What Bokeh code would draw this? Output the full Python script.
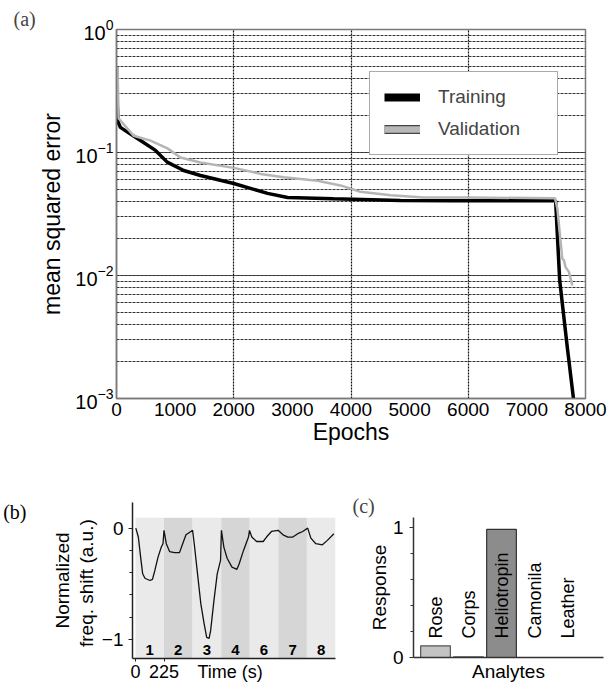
import math
from bokeh.plotting import figure
from bokeh.layouts import column, row
from bokeh.models import (Range1d, FixedTicker, LogTicker, Legend, LegendItem, Title,
                          LinearAxis, CustomJSTickFormatter)
from bokeh.core.properties import value
from bokeh.embed import file_html
from bokeh.resources import INLINE

SANS = "Liberation Sans"
SERIF = "Liberation Serif"
NAN = float("nan")

# ---------------- data: panel (a) ----------------
train_epochs = [0, 10, 30, 68, 200, 410, 665, 865, 1146, 1433, 2000, 2577, 2918, 3700, 4846, 5700, 7490, 7560, 7690, 7800]
train_mse = [0.50, 0.26, 0.175, 0.16, 0.145, 0.125, 0.104, 0.0835, 0.0714, 0.065, 0.056, 0.0465, 0.043, 0.042, 0.0407, 0.0405, 0.0405, 0.0091, 0.0026, 0.00095]
val_epochs = [0, 20, 35, 290, 580, 870, 1090, 1430, 2000, 2460, 2850, 3430, 3820, 4160, 4680, 5240, 6000, 7480, 7520, 7604, 7632, 7660, 7717, 7775]
val_mse = [0.50, 0.45, 0.19, 0.137, 0.125, 0.108, 0.091, 0.083, 0.075, 0.067, 0.063, 0.059, 0.054, 0.048, 0.045, 0.043, 0.043, 0.0425, 0.035, 0.0137, 0.0133, 0.0117, 0.0107, 0.0083]
epoch_ticks = [0, 1000, 2000, 3000, 4000, 5000, 6000, 7000, 8000]
epoch_grid = [2000, 4000, 6000]
series_names = ["Training", "Validation"]

# ---------------- data: panel (b) ----------------
time_s = [3, 23, 41, 57, 75, 114, 134, 153, 178, 204, 217, 225, 243, 269, 308, 347, 372, 398, 437, 450,
          463, 489, 515, 541, 561, 580, 592, 618, 644, 657, 670, 677, 696, 722, 760, 799, 817, 851, 890, 898,
          916, 954, 1006, 1032, 1071, 1123, 1162, 1200, 1239, 1278, 1317, 1356, 1381, 1420, 1472, 1511, 1562]
freq_shift = [0.00, -0.08, -0.26, -0.41, -0.45, -0.47, -0.46, -0.38, -0.26, -0.17, -0.14, -0.02, -0.14, -0.21, -0.22, -0.22, -0.14, -0.06, -0.03, -0.02,
              -0.14, -0.41, -0.68, -0.86, -0.98, -0.99, -0.92, -0.65, -0.41, -0.35, -0.29, -0.02, -0.17, -0.27, -0.35, -0.37, -0.32, -0.20, -0.08, -0.02,
              -0.08, -0.12, -0.12, -0.08, -0.03, -0.02, -0.06, -0.08, -0.08, -0.05, -0.03, 0.00, -0.09, -0.14, -0.15, -0.11, -0.05]
window_starts = [0, 225, 450, 675, 900, 1125, 1350]
window_len = 225
window_labels = ["1", "2", "3", "4", "6", "7", "8"]
time_ticks = [0, 225]
shift_ticks = [-1, 0]
shift_minor = [-0.8, -0.6, -0.4, -0.2]

# ---------------- data: panel (c) ----------------
analytes = ["Rose", "Corps", "Heliotropin", "Camonila", "Leather"]
response = [0.09, 0.005, 0.985, 0.0, 0.0]
response_ticks = [0, 1]
response_minor = [0.2, 0.4, 0.6, 0.8]


def style_axis(ax, size="19px"):
    ax.major_label_text_font = SANS
    ax.major_label_text_font_size = size
    ax.major_label_text_color = "black"
    ax.axis_label_text_font = SANS
    ax.axis_label_text_font_style = "normal"
    ax.axis_label_text_color = "black"


def blank_axis(ax):
    ax.axis_line_color = None
    ax.major_tick_line_color = None
    ax.minor_tick_line_color = None
    ax.major_tick_out = 0
    ax.major_tick_in = 0
    ax.minor_tick_out = 0
    ax.minor_tick_in = 0


# ================= panel (a) =================
pa = figure(width=610, height=450, x_range=Range1d(0, 8000), y_range=Range1d(1e-3, 1),
            y_axis_type="log", output_backend="svg", toolbar_location=None,
            min_border_left=116, min_border_right=25, min_border_top=29, min_border_bottom=52)
pa.frame_align = False
pa.outline_line_color = "#7a7a7a"
pa.outline_line_width = 1.5

pa.xaxis.ticker = FixedTicker(ticks=epoch_ticks)
pa.xgrid.ticker = FixedTicker(ticks=epoch_grid)
pa.xgrid.grid_line_color = "#111111"
pa.xgrid.grid_line_dash = "2 1"
pa.xgrid.grid_line_width = 1.2

lt = LogTicker(mantissas=[1], min_interval=1, num_minor_ticks=10)
pa.yaxis.ticker = lt
pa.ygrid.ticker = lt
pa.ygrid.grid_line_color = "#333333"
pa.ygrid.grid_line_dash = "3 1"
pa.ygrid.minor_grid_line_color = "#333333"
pa.ygrid.minor_grid_line_dash = "3 1"

for ax in (pa.xaxis[0], pa.yaxis[0]):
    style_axis(ax)
    ax.axis_line_color = "#7a7a7a"
    ax.axis_line_width = 1.5
    ax.major_tick_line_color = None
    ax.minor_tick_line_color = None
    ax.major_tick_out = 0
    ax.minor_tick_out = 0
    ax.axis_label_text_font_size = "23px"
pa.yaxis.major_label_text_font_size = "20px"
pa.xaxis.axis_label = "Epochs"
pa.xaxis.major_label_standoff = 4
pa.xaxis.axis_label_standoff = 0
pa.yaxis.axis_label = "mean squared error"
pa.yaxis.major_label_standoff = 3
pa.yaxis.axis_label_standoff = 7

pa.line(train_epochs, train_mse, line_color="black", line_width=3.5)
pa.line(val_epochs, val_mse, line_color="#b5b5b5", line_width=2.5)

# legend proxies (no visible data)
leg_train = pa.line(x=[NAN], y=[NAN], line_color="black", line_width=8)
leg_val_out = pa.line(x=[NAN], y=[NAN], line_color="#444444", line_width=9)
leg_val_in = pa.line(x=[NAN], y=[NAN], line_color="#b8b8b8", line_width=6.5)
legend = Legend(items=[LegendItem(label=series_names[0], renderers=[leg_train]),
                       LegendItem(label=series_names[1], renderers=[leg_val_out, leg_val_in])],
                location=(253, 243), glyph_width=36, glyph_height=22, label_width=105,
                label_height=22, spacing=10, padding=14, label_standoff=18, margin=0,
                label_text_font=SANS, label_text_font_size="19px",
                border_line_color="#555555", border_line_width=1.5,
                background_fill_color="white", background_fill_alpha=1.0)
pa.add_layout(legend)
pa.add_layout(Title(text="(a)", align="left", offset=-103, standoff=0, vertical_align="bottom",
                    text_font=SERIF, text_font_size="20px", text_font_style="normal"), "above")

# ================= panel (b) =================
pb = figure(width=345, height=234, x_range=Range1d(-23, 1575), y_range=Range1d(-1.17, 0.23),
            output_backend="svg", toolbar_location=None,
            min_border_left=129, min_border_right=10, min_border_top=52, min_border_bottom=26)
pb.frame_align = False
pb.grid.visible = False
pb.outline_line_color = None

stripe_colors = ["#eaeaea" if i % 2 == 0 else "#d6d6d6" for i in range(len(window_starts))]
pb.quad(left=window_starts, right=[s + window_len for s in window_starts],
        bottom=-1.17, top=0.093, fill_color=stripe_colors, line_color=None)
pb.text(x=[s + window_len / 2 for s in window_starts], y=[-1.09] * len(window_starts), text=window_labels,
        text_font=value(SANS), text_font_style="bold", text_font_size="15px",
        text_align="center", text_baseline="middle", text_color="black")
pb.line(time_s, freq_shift, line_color="#111111", line_width=1.3)

time_label_pos = 745
pb.xaxis.ticker = FixedTicker(ticks=time_ticks + [time_label_pos], minor_ticks=time_ticks)
pb.xaxis.major_label_overrides = {time_label_pos: "Time (s)"}
pb.yaxis.ticker = FixedTicker(ticks=shift_ticks, minor_ticks=shift_minor)
for ax in (pb.xaxis[0], pb.yaxis[0]):
    style_axis(ax, "19px")
    ax.axis_line_color = "#222222"
    ax.axis_line_width = 1.5
    ax.major_tick_out = 4
    ax.major_tick_in = 0
    ax.minor_tick_out = 3
    ax.minor_tick_in = 0
    ax.major_tick_line_color = "#222222"
    ax.minor_tick_line_color = "#222222"
pb.xaxis.major_tick_line_color = None
pb.xaxis.major_tick_out = 3
pb.xaxis.minor_tick_out = 3
pb.xaxis.major_label_standoff = 0
pb.xaxis.major_label_text_font_size = "18px"
pb.yaxis.major_label_standoff = 5
pb.yaxis.axis_label = "freq. shift  (a.u.)"
pb.yaxis.axis_label_text_font_size = "19px"
pb.yaxis.axis_label_standoff = 2

ax_norm = LinearAxis(ticker=FixedTicker(ticks=[]), axis_label="Normalized")
style_axis(ax_norm)
blank_axis(ax_norm)
ax_norm.axis_label_text_font_size = "19px"
ax_norm.major_label_standoff = 0
ax_norm.axis_label_standoff = 0
pb.add_layout(ax_norm, "left")

ax_tag_b = LinearAxis(ticker=FixedTicker(ticks=[0.144]), formatter=CustomJSTickFormatter(code="return '(b)';"))
blank_axis(ax_tag_b)
ax_tag_b.major_label_text_font = SERIF
ax_tag_b.major_label_text_font_size = "20px"
ax_tag_b.major_label_text_color = "black"
ax_tag_b.major_label_standoff = 22
pb.add_layout(ax_tag_b, "left")

# ================= panel (c) =================
pc = figure(width=265, height=234, x_range=Range1d(0.333, 6.09), y_range=Range1d(0, 1.077),
            output_backend="svg", toolbar_location=None,
            min_border_left=68, min_border_right=7, min_border_top=67, min_border_bottom=27)
pc.frame_align = False
pc.grid.visible = False
pc.outline_line_color = None

xs = list(range(1, len(analytes) + 1))
bar_fill = ["#8c8c8c" if a == "Heliotropin" else "#c3c3c3" for a in analytes]
bar_line = ["#333333" if a == "Heliotropin" else "#555555" for a in analytes]
pc.vbar(x=xs, top=response, width=0.9, bottom=0, fill_color=bar_fill, line_color=bar_line, line_width=1.2)
pc.text(x=xs, y=[0.146] * len(xs), text=analytes, angle=math.pi / 2,
        text_font=value(SANS), text_font_size="18px", text_align="left", text_baseline="middle", text_color="black")

pc.yaxis.ticker = FixedTicker(ticks=response_ticks, minor_ticks=response_minor)
pc.xaxis.ticker = FixedTicker(ticks=[])
for ax in (pc.xaxis[0], pc.yaxis[0]):
    style_axis(ax, "19px")
    ax.axis_line_color = "#333333"
    ax.axis_line_width = 1.5
    ax.major_tick_out = 4
    ax.major_tick_in = 0
    ax.minor_tick_out = 3
    ax.minor_tick_in = 0
    ax.major_tick_line_color = "#333333"
    ax.minor_tick_line_color = "#333333"
    ax.axis_label_text_font_size = "19px"
pc.yaxis.axis_label = "Response"
pc.yaxis.major_label_standoff = 6
pc.yaxis.axis_label_standoff = 0
pc.xaxis.axis_label = "Analytes"
pc.xaxis.major_tick_out = 0
pc.xaxis.minor_tick_out = 0
pc.xaxis.major_label_standoff = 0
pc.xaxis.axis_label_standoff = 3
pc.add_layout(Title(text="(c)", align="left", offset=-61, standoff=0, vertical_align="middle",
                    text_font=SERIF, text_font_size="20px", text_font_style="normal"), "above")

layout = column(pa, row(pb, pc))
open("out.html", "w").write(file_html(layout, INLINE))
